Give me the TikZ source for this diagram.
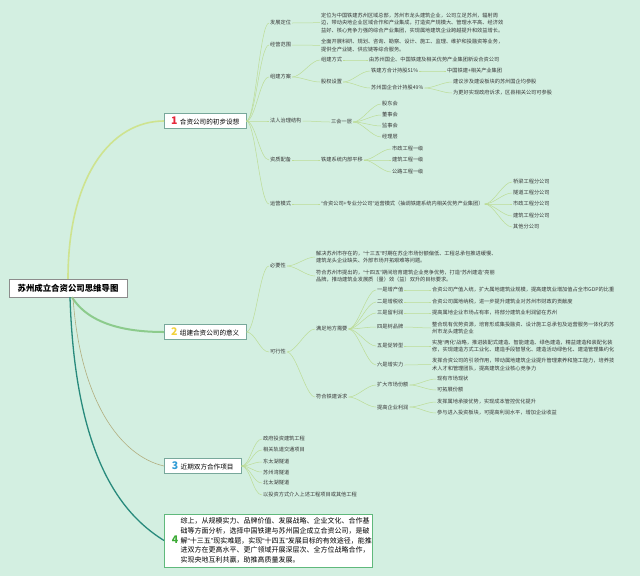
\documentclass[tikz,border=0pt]{standalone}
\usepackage{fontspec}
\newfontfamily\cjk{Noto Sans CJK SC}
\newfontfamily\qfont{Liberation Sans}
\usetikzlibrary{calc}

\definecolor{bgmint}{RGB}{211,239,225}
\definecolor{boxline}{RGB}{120,168,155}
\definecolor{twigline}{RGB}{188,220,150}
\definecolor{numred}{RGB}{230,40,58}
\definecolor{numyellow}{RGB}{242,210,60}
\definecolor{numblue}{RGB}{46,155,214}
\definecolor{numgreen}{RGB}{60,170,53}
\definecolor{limbteal}{RGB}{40,138,124}

% number in front of a branch title
\newcommand\bnum[2]{{\color{#1}\fontsize{10.5}{10.5}\selectfont\bfseries #2}\hspace{2.5pt}}
% narrow quotation marks
\newcommand\oq{{\qfont “}}
\newcommand\cq{{\qfont ”}}

\begin{document}
\begin{tikzpicture}[
    x=1pt, y=-1pt,
    % Node styles
    root/.style={draw=black!45, fill=white, font=\cjk\bfseries\fontsize{8.4}{10}\selectfont, minimum width=118pt, minimum height=18pt, inner sep=0pt},
    branch/.style={draw=boxline, fill=white, anchor=west, font=\cjk\fontsize{6.6}{8}\selectfont, minimum height=15pt, inner sep=0pt},
    lbl/.style={anchor=west, inner sep=1pt, font=\cjk\fontsize{5.2}{7.5}\selectfont, text=black!78, align=left},
    sumbox/.style={draw=boxline!80!green, fill=white, anchor=west, font=\cjk, minimum width=208pt, minimum height=53pt, inner sep=0pt},
    % Edge styles
    twig/.style={draw=twigline, line width=0.5pt, to path={.. controls +(9,0) and +(-9,0) .. (\tikztotarget)}},
    limb one/.style={draw=green!25!yellow!60!gray!55!white, line width=1.6pt},
    limb two/.style={draw=green!55!black!45!white, line width=2pt},
    limb three/.style={draw=olive!40!gray!70!white, line width=0.6pt},
    limb four/.style={draw=limbteal, line width=1.3pt}
]
    \fill[bgmint] (0,0) rectangle (640,576);
    \useasboundingbox (0,0) rectangle (640,576);

    % =========================================================================
    % 1. Root and main branches
    % =========================================================================
    \node[root] (root) at (68,288) {苏州成立合资公司思维导图};

    \node[branch, minimum width=82pt] (b1) at (164,121) {\bnum{numred}{1}合资公司的初步设想};
    \node[branch, minimum width=82pt] (b2) at (164,332) {\bnum{numyellow}{2}组建合资公司的意义};
    \node[branch, minimum width=77pt] (b3) at (164,466) {\bnum{numblue}{3}近期双方合作项目};
    \node[sumbox] (b4) at (164,540.5) {\hspace{6pt}\bnum{numgreen}{4}\parbox[c]{190pt}{\fontsize{7}{9.75}\selectfont
        综上，从规模实力、品牌价值、发展战略、企业文化、合作基\\
        础等方面分析，选择中国铁建与苏州国企成立合资公司，是破\\
        解\oq 十三五\cq 现实难题，实现\oq 十四五\cq 发展目标的有效途径，能推\\
        进双方在更高水平、更广领域开展深层次、全方位战略合作，\\
        实现央地互利共赢，助推高质量发展。}};

    \draw[limb one] ([xshift=0pt]root.north) .. controls (68,175) and (112,121) .. (b1.west);
    \draw[limb two] ([xshift=4pt]root.south) .. controls (90,326) and (130,332) .. (b2.west);
    \draw[limb three] ([xshift=5pt]root.south) .. controls (80,400) and (120,456) .. (b3.west);
    \draw[limb four] ([xshift=2pt]root.south) .. controls (75,452) and (118,512) .. (b4.west);

    % =========================================================================
    % 2. Branch 1: first ideas
    % =========================================================================
    \node[lbl] (pos) at (269,23) {发展定位};
    \node[lbl] (scope) at (269,45) {经营范围};
    \node[lbl] (plan) at (269,77) {组建方案};
    \node[lbl] (gov) at (269,121) {法人治理结构};
    \node[lbl] (qual) at (269,160) {资质配备};
    \node[lbl] (ops) at (269,204) {运营模式};
    \foreach \c in {pos, scope, plan, gov, qual, ops}
        \draw[twig] (b1.east) to (\c.west);

    \node[lbl] (posT) at (320,22.7) {定位为中国铁建苏州区域总部，苏州市龙头建筑企业，公司立足苏州，辐射周\\
        边，带动央地企业区域合作和产业集成，打造资产规模大、管理水平高、经济效\\
        益好、核心竞争力强的综合产业集团，实现属地建筑企业跨越提升和效益增长。};
    \node[lbl] (scopeT) at (320,45.3) {全面开展科研、规划、咨询、勘察、设计、施工、监理、维护和投融资等业务，\\
        提供全产业链、供应链等综合服务。};
    \draw[twig] (pos.east) to (posT.west);
    \draw[twig] (scope.east) to (scopeT.west);

    % plan
    \node[lbl] (way) at (320,60) {组建方式};
    \node[lbl] (share) at (320,82) {股权设置};
    \node[lbl] (wayT) at (368,60) {由苏州国企、中国铁建及相关优势产业集团新设合资公司};
    \node[lbl] (crcc) at (370,71) {铁建方合计持股51\%};
    \node[lbl] (szgq) at (370,88) {苏州国企合计持股49\%};
    \node[lbl] (crccT) at (446,71) {中国铁建+相关产业集团};
    \node[lbl] (szA) at (452,82) {建议涉及建设板块的苏州国企均参股};
    \node[lbl] (szB) at (452,93) {为更好实现政府诉求，区县相关公司可参股};
    \foreach \c in {way, share}
        \draw[twig] (plan.east) to (\c.west);
    \draw[twig] (way.east) to (wayT.west);
    \foreach \c in {crcc, szgq}
        \draw[twig] (share.east) to (\c.west);
    \draw[twig] (crcc.east) to (crccT.west);
    \foreach \c in {szA, szB}
        \draw[twig] (szgq.east) to (\c.west);

    % governance
    \node[lbl] (sanhui) at (330,122) {三会一层};
    \node[lbl] (gdh) at (381,104) {股东会};
    \node[lbl] (dsh) at (381,115) {董事会};
    \node[lbl] (jsh) at (381,126) {监事会};
    \node[lbl] (jlc) at (381,137) {经理层};
    \draw[twig] (gov.east) to (sanhui.west);
    \foreach \c in {gdh, dsh, jsh, jlc}
        \draw[twig] (sanhui.east) to (\c.west);

    % qualification
    \node[lbl] (ptrans) at (320,160) {铁建系统内部平移};
    \node[lbl] (qa) at (391,149) {市政工程一级};
    \node[lbl] (qb) at (391,160) {建筑工程一级};
    \node[lbl] (qc) at (391,172) {公路工程一级};
    \draw[twig] (qual.east) to (ptrans.west);
    \foreach \c in {qa, qb, qc}
        \draw[twig] (ptrans.east) to (\c.west);

    % operation mode
    \node[lbl] (mode) at (320,204) {\oq 合资公司+专业分公司\cq 运营模式（抽调铁建系统内相关优势产业集团）};
    \node[lbl] (fa) at (512,182) {桥梁工程分公司};
    \node[lbl] (fb) at (512,193) {隧道工程分公司};
    \node[lbl] (fc) at (512,204) {市政工程分公司};
    \node[lbl] (fd) at (512,216) {建筑工程分公司};
    \node[lbl] (fe) at (512,227) {其他分公司};
    \draw[twig] (ops.east) to (mode.west);
    \foreach \c in {fa, fb, fc, fd, fe}
        \draw[twig] (mode.east) to (\c.west);

    % =========================================================================
    % 3. Branch 2: meaning
    % =========================================================================
    \node[lbl] (need) at (269,266) {必要性};
    \node[lbl] (feas) at (269,352) {可行性};
    \foreach \c in {need, feas}
        \draw[twig] (b2.east) to (\c.west);

    \node[lbl] (needA) at (315,257) {解决苏州市存在的，\oq 十三五\cq 时期在苏企市场份额偏低、工程总承包推进缓慢、\\
        建筑龙头企业缺失、外部市场开拓艰难等问题。};
    \node[lbl] (needB) at (315,276) {符合苏州市提出的，\oq 十四五\cq 期间培育建筑企业竞争优势，打造\oq 苏州建造\cq 亮丽\\
        品牌，推动建筑业发展质（量）效（益）双升的目标要求。};
    \foreach \c in {needA, needB}
        \draw[twig] (need.east) to (\c.west);

    \node[lbl] (local) at (315,329) {满足地方需要};
    \node[lbl] (crccneed) at (315,397) {符合铁建诉求};
    \foreach \c in {local, crccneed}
        \draw[twig] (feas.east) to (\c.west);

    % local needs
    \node[lbl] (la) at (376,290) {一是增产值};
    \node[lbl] (lb) at (376,302) {二是增税收};
    \node[lbl] (lc) at (376,313) {三是留利润};
    \node[lbl] (ld) at (376,327) {四是树品牌};
    \node[lbl] (le) at (376,346) {五是促转型};
    \node[lbl] (lf) at (376,365) {六是增实力};
    \foreach \c in {la, lb, lc, ld, le, lf}
        \draw[twig] (local.east) to (\c.west);

    \node[lbl] (laT) at (431,290) {合资公司产值入统，扩大属地建筑业规模，提高建筑业增加值占全市GDP的比重};
    \node[lbl] (lbT) at (431,302) {合资公司属地纳税，进一步提升建筑业对苏州市财政的贡献度};
    \node[lbl] (lcT) at (431,313) {提高属地企业市场占有率，将部分建筑业利润留在苏州};
    \node[lbl] (ldT) at (431,328) {整合现有优势资源，培育形成集投融资、设计施工总承包及运营服务一体化的苏\\
        州市龙头建筑企业};
    \node[lbl] (leT) at (431,346) {实施\oq 两化\cq 战略，推进装配式建造、智能建造、绿色建造，精益建造和装配化装\\
        修，实现建造方式工业化、建造手段智慧化、建造活动绿色化、建造管理集约化};
    \node[lbl] (lfT) at (431,364.5) {发挥合资公司的引领作用，带动属地建筑企业提升管理素养和施工能力，培养技\\
        术人才和管理团队，提高建筑企业核心竞争力};
    \foreach \c in {a, b, c, d, e, f}
        \draw[twig] (l\c.east) to (l\c T.west);

    % railway needs
    \node[lbl] (market) at (376,385) {扩大市场份额};
    \node[lbl] (profit) at (376,407) {提高企业利润};
    \foreach \c in {market, profit}
        \draw[twig] (crccneed.east) to (\c.west);
    \node[lbl] (ma) at (436,379) {现有市场现状};
    \node[lbl] (mb) at (436,390) {可拓展份额};
    \node[lbl] (pa) at (436,402) {发挥属地承接优势，实现成本管控优化提升};
    \node[lbl] (pb) at (436,413) {参与进入投资板块，可提高利润水平，增加企业收益};
    \foreach \c in {ma, mb}
        \draw[twig] (market.east) to (\c.west);
    \foreach \c in {pa, pb}
        \draw[twig] (profit.east) to (\c.west);

    % =========================================================================
    % 4. Branch 3: recent projects
    % =========================================================================
    \node[lbl] (pja) at (262,439) {政府投资建筑工程};
    \node[lbl] (pjb) at (262,450) {相关轨道交通项目};
    \node[lbl] (pjc) at (262,462) {东太湖隧道};
    \node[lbl] (pjd) at (262,472) {苏州湾隧道};
    \node[lbl] (pje) at (262,483) {北太湖隧道};
    \node[lbl] (pjf) at (262,495) {以投资方式介入上述工程项目或其他工程};
    \foreach \c in {pja, pjb, pjc, pjd, pje, pjf}
        \draw[twig] (b3.east) to (\c.west);
\end{tikzpicture}
\end{document}
